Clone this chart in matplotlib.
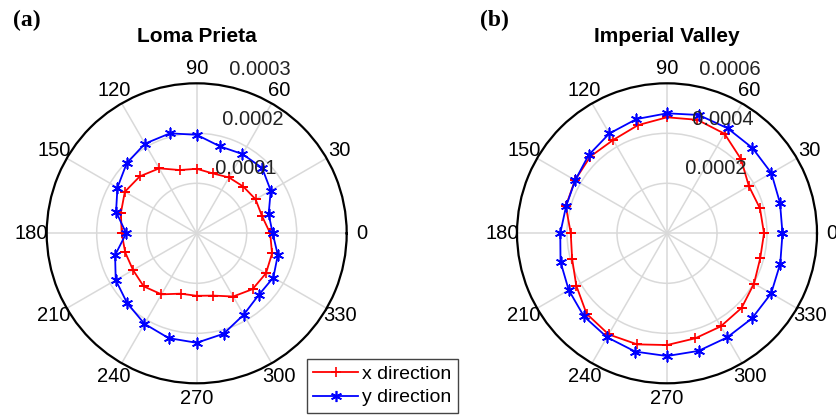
import numpy as np
import matplotlib.pyplot as plt

plt.rcParams['font.family'] = ['Liberation Sans', 'DejaVu Sans']

# angles of the measurements (degrees)
angles_deg = [0, 15, 30, 45, 60, 75, 90, 105, 120, 135, 150, 165,
              180, 195, 210, 225, 240, 255, 270, 285, 300, 315, 330, 345]
scale = 1e-4

# Loma Prieta (x 1e-4)
loma_x = [1.47, 1.35, 1.36, 1.32, 1.29, 1.24, 1.29, 1.31, 1.50, 1.61, 1.66, 1.57,
          1.50, 1.48, 1.47, 1.50, 1.41, 1.25, 1.25, 1.29, 1.46, 1.58, 1.60, 1.56]
loma_y = [1.52, 1.49, 1.71, 1.85, 1.83, 1.80, 1.97, 2.07, 2.07, 1.98, 1.83, 1.67,
          1.41, 1.69, 1.87, 1.97, 2.09, 2.17, 2.19, 2.08, 1.88, 1.75, 1.77, 1.68]

# Imperial Valley (x 1e-4)
imp_x = [3.88, 3.85, 3.78, 4.19, 4.60, 4.70, 4.64, 4.48, 4.31, 4.34, 4.25, 4.19,
         3.85, 3.93, 4.19, 4.55, 4.67, 4.60, 4.47, 4.35, 4.30, 4.22, 4.02, 3.86]
imp_y = [4.62, 4.68, 4.82, 4.83, 4.85, 4.90, 4.80, 4.73, 4.61, 4.43, 4.24, 4.18,
         4.27, 4.41, 4.54, 4.70, 4.80, 4.90, 4.91, 4.87, 4.81, 4.81, 4.81, 4.69]

loma_rticks = [1, 2, 3]
loma_rlabels = ['0.0001', '0.0002', '0.0003']
imp_rticks = [2, 4, 6]
imp_rlabels = ['0.0002', '0.0004', '0.0006']

fs = 14.5

fig = plt.figure(figsize=(8.37, 4.19), dpi=100)


def polar_panel(rect, xs, ys, rticks, rlabels):
    ax = fig.add_axes(rect, projection='polar')
    th = np.deg2rad(angles_deg + angles_deg[:1])
    ax.plot(th, (np.array(xs + xs[:1])) * scale, color='red', lw=1.3,
            marker='+', ms=7, mew=1.2, label='x direction')
    ax.plot(th, (np.array(ys + ys[:1])) * scale, color='blue', lw=1.3,
            marker=(6, 2, 0), ms=8, mew=1.2, label='y direction')
    rmax = rticks[-1] * scale
    ax.set_ylim(0, rmax)
    ax.set_yticks([r * scale for r in rticks[:-1]])
    ax.set_yticklabels([])
    ax.set_xticks(np.deg2rad(np.arange(0, 360, 30)))
    ax.set_xticklabels([])
    ax.set_axisbelow(True)
    ax.grid(True, color='#d9d9d9', lw=1.1)
    ax.spines['polar'].set_color('black')
    ax.spines['polar'].set_linewidth(1.6)
    for a in range(0, 360, 30):
        ax.text(np.deg2rad(a), 1.1 * rmax, str(a), ha='center', va='center', fontsize=fs)
    for r, lab in zip(rticks, rlabels):
        ax.annotate('  ' + lab, (np.deg2rad(82), r * scale), xytext=(0, 4),
                    textcoords='offset points', ha='left', va='bottom',
                    fontsize=fs, color='#222222')
    return ax


ax1 = polar_panel([0.0558, 0.0852, 0.3584, 0.716], loma_x, loma_y, loma_rticks, loma_rlabels)
ax2 = polar_panel([0.6177, 0.0852, 0.3584, 0.716], imp_x, imp_y, imp_rticks, imp_rlabels)

fig.text(0.235, 0.912, 'Loma Prieta', ha='center', va='center', fontsize=15, fontweight='bold')
fig.text(0.7963, 0.912, 'Imperial Valley', ha='center', va='center', fontsize=15, fontweight='bold')
fig.text(0.0323, 0.95, '(a)', ha='center', va='center', fontsize=17, fontweight='bold',
         family='Liberation Serif')
fig.text(0.5908, 0.95, '(b)', ha='center', va='center', fontsize=17, fontweight='bold',
         family='Liberation Serif')

h, l = ax1.get_legend_handles_labels()
leg = fig.legend(h, l, loc='lower left', bbox_to_anchor=(0.3664, 0.0136), borderaxespad=0,
                 fontsize=14, handlelength=2.3, handletextpad=0.2, labelspacing=0.3,
                 borderpad=0.35, fancybox=False, framealpha=1)
leg.get_frame().set_edgecolor('#444444')
leg.get_frame().set_linewidth(1.0)

fig.savefig('out.png', dpi=100)
